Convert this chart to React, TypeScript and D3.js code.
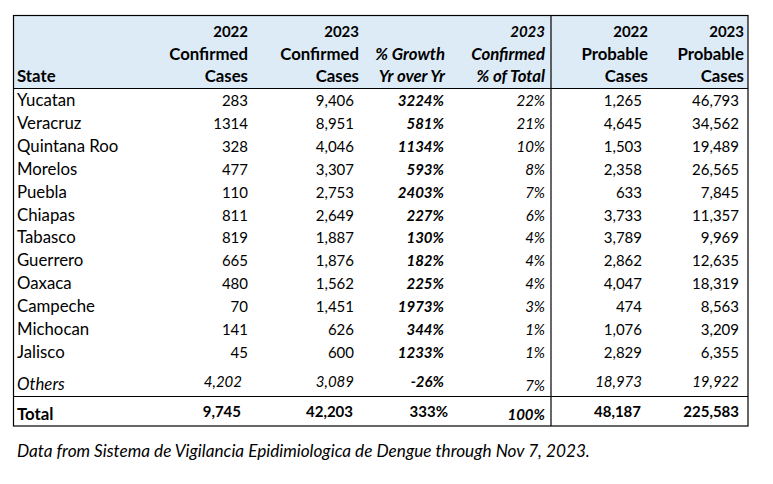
import React from "react";
import * as d3 from "d3";

const states = ["Yucatan","Veracruz","Quintana Roo","Morelos","Puebla","Chiapas","Tabasco","Guerrero","Oaxaca","Campeche","Michocan","Jalisco"];
const confirmed2022 = [283,1314,328,477,110,811,819,665,480,70,141,45];
const confirmed2023 = [9406,8951,4046,3307,2753,2649,1887,1876,1562,1451,626,600];
const growthPct = [3224,581,1134,593,2403,227,130,182,225,1973,344,1233];
const shareOfTotal = [22,21,10,8,7,6,4,4,4,3,1,1];
const probable2022 = [1265,4645,1503,2358,633,3733,3789,2862,4047,474,1076,2829];
const probable2023 = [46793,34562,19489,26565,7845,11357,9969,12635,18319,8563,3209,6355];
const unformattedStates = ["Veracruz"];

const others = { label: "Others", c22: 4202, c23: 3089, growth: -26, share: 7, p22: 18973, p23: 19922 };
const total = { label: "Total", c22: 9745, c23: 42203, growth: 333, share: 100, p22: 48187, p23: 225583 };

const headerLines = [
  ["", "", "State"],
  ["2022", "Confirmed", "Cases"],
  ["2023", "Confirmed", "Cases"],
  ["", "% Growth", "Yr over Yr"],
  ["2023", "Confirmed", "% of Total"],
  ["2022", "Probable", "Cases"],
  ["2023", "Probable", "Cases"],
];
const caption = "Data from Sistema de Vigilancia Epidimiologica de Dengue through Nov 7, 2023.";

const W = 773, H = 484;
const FONT = "Lato, sans-serif";
const FS_NUM = 15;
const FS_WORD = 16.8;

export default function App() {
  const comma = d3.format(",");
  const left = 13.5, right = 748, top = 15.5, headerBottom = 88.5, totalTop = 396.5, bottom = 426;
  const divider = 551;
  const headerRight = [17, 248, 359, 445, 545, 648, 744];
  const valueRight = [17, 248, 354, 444, 545, 642, 739];
  const headerBaselines = [37, 60, 82];
  const rowY = d3.scaleLinear().domain([0, 11]).range([106, 358]);

  const txt = (x: number, y: number, s: string, opts: any = {}) => {
    const numeric = /^[-0-9,%]+$/.test(s);
    return (
      <text x={x} y={y} textAnchor={opts.anchor || "end"} fontWeight={opts.bold ? 700 : 400}
        fontStyle={opts.italic ? "italic" : "normal"} fontSize={numeric ? FS_NUM : FS_WORD} fill="#000">{s}</text>
    );
  };

  return (
    <svg width={W} height={H} style={{ position: "absolute", left: 0, top: 0, background: "#fff" }} fontFamily={FONT}>
      <rect x={left} y={top} width={right - left} height={headerBottom - top} fill="#DDEBF7" />
      {headerLines.map((lines, ci) =>
        lines.map((s, li) =>
          s ? <g key={`h${ci}-${li}`}>{txt(headerRight[ci], headerBaselines[li], s, {
            anchor: ci === 0 ? "start" : "end", bold: true, italic: ci === 3 || ci === 4 })}</g> : null
        )
      )}
      {states.map((st, i) => {
        const y = rowY(i);
        const fmt = (v: number) => unformattedStates.includes(st) ? String(v) : comma(v);
        return (
          <g key={st}>
            {txt(valueRight[0], y, st, { anchor: "start" })}
            {txt(valueRight[1], y, fmt(confirmed2022[i]))}
            {txt(valueRight[2], y, comma(confirmed2023[i]))}
            {txt(valueRight[3], y, `${growthPct[i]}%`, { bold: true, italic: true })}
            {txt(valueRight[4], y, `${shareOfTotal[i]}%`, { italic: true })}
            {txt(valueRight[5], y, comma(probable2022[i]))}
            {txt(valueRight[6], y, comma(probable2023[i]))}
          </g>
        );
      })}
      <g>
        {txt(valueRight[0], 390, others.label, { anchor: "start", italic: true })}
        {txt(242, 387, comma(others.c22), { italic: true })}
        {txt(valueRight[2], 387, comma(others.c23), { italic: true })}
        {txt(valueRight[3], 387, `${others.growth}%`, { bold: true, italic: true })}
        {txt(valueRight[4], 391, `${others.share}%`, { italic: true })}
        {txt(valueRight[5], 387, comma(others.p22), { italic: true })}
        {txt(valueRight[6], 387, comma(others.p23), { italic: true })}
      </g>
      <g>
        {txt(valueRight[0], 420, total.label, { anchor: "start", bold: true })}
        {txt(241, 417, comma(total.c22), { bold: true })}
        {txt(353, 417, comma(total.c23), { bold: true })}
        {txt(448, 417, `${total.growth}%`, { bold: true })}
        {txt(valueRight[4], 420, `${total.share}%`, { bold: true, italic: true })}
        {txt(641, 417, comma(total.p22), { bold: true })}
        {txt(739, 417, comma(total.p23), { bold: true })}
      </g>
      <g stroke="#000" strokeWidth={1.2} fill="none">
        <rect x={left} y={top} width={right - left} height={bottom - top} />
        <line x1={left} x2={right} y1={headerBottom} y2={headerBottom} />
        <line x1={left} x2={right} y1={totalTop} y2={totalTop} />
        <line x1={divider} x2={divider} y1={top} y2={bottom} />
      </g>
      <text x={17} y={457} fontSize={17.2} fontStyle="italic" fill="#000">{caption}</text>
    </svg>
  );
}
